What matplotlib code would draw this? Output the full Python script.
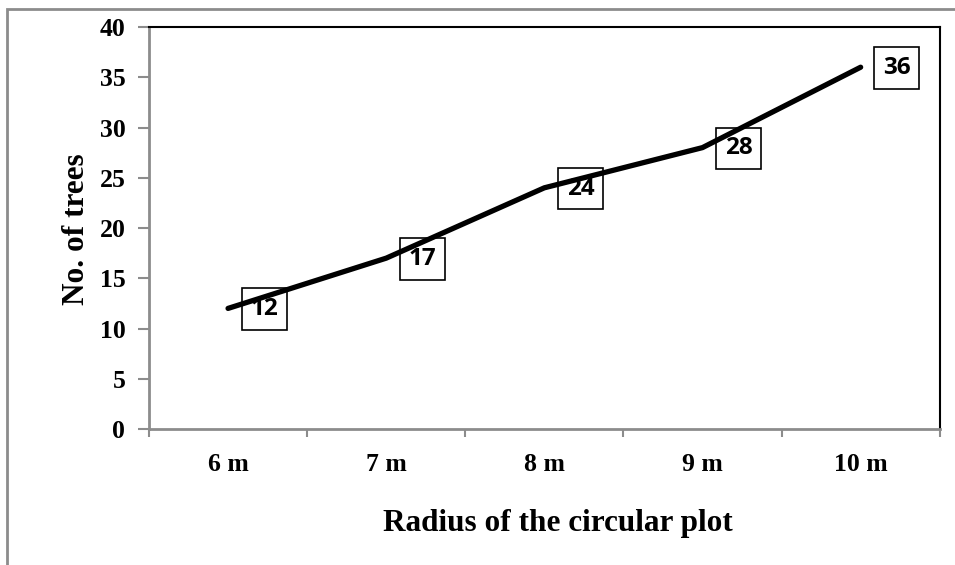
import matplotlib.pyplot as plt
from matplotlib.patches import Rectangle

# radius of the circular sample plot and the tree count found in it
radius_labels = ["6 m", "7 m", "8 m", "9 m", "10 m"]
tree_counts = [12, 17, 24, 28, 36]

serif = "Liberation Serif"
grey = "#8c8c8c"

fig = plt.figure(figsize=(9.55, 5.65), dpi=100)
ax = fig.add_axes([0.156, 0.2407, 0.828, 0.7115])

# light outer frame around the whole chart
fig.patches.append(Rectangle((7 / 955, -0.1), 1.2, 1 - 9 / 565 + 0.1,
                             transform=fig.transFigure, fill=False,
                             edgecolor=grey, linewidth=2))

x = list(range(len(tree_counts)))
ax.plot(x, tree_counts, color="black", linewidth=3.8, solid_capstyle="round",
        zorder=3)

# value labels in open boxes to the right of each point
for xi, yi in zip(x, tree_counts):
    ax.annotate(str(yi), (xi, yi), xytext=(26, -0.5), textcoords="offset points",
                ha="center", va="center", fontsize=17.5, fontweight="bold",
                family="Open Sans", zorder=2,
                bbox=dict(boxstyle="square,pad=0.36", facecolor="none",
                          edgecolor="black", linewidth=1.2))

ax.set_xlim(-0.5, len(x) - 0.5)
ax.set_ylim(0, 40)
ax.set_yticks(range(0, 41, 5))
ax.set_xticks(x)
ax.set_xticklabels(radius_labels)
ax.set_xticks([i - 0.5 for i in range(len(x) + 1)], minor=True)
ax.tick_params(axis="x", which="major", length=0, pad=17)
ax.tick_params(axis="x", which="minor", length=6, color=grey, width=1.5)
ax.tick_params(axis="y", length=8, color=grey, width=1.5, pad=9)

for lab in ax.get_xticklabels() + ax.get_yticklabels():
    lab.set_fontfamily(serif)
    lab.set_fontweight("bold")
    lab.set_fontsize(18.5)

for side in ("left", "bottom"):
    ax.spines[side].set_color(grey)
    ax.spines[side].set_linewidth(2)
for side in ("top", "right"):
    ax.spines[side].set_color("black")
    ax.spines[side].set_linewidth(1.5)

ax.set_xlabel("Radius of the circular plot", family=serif, fontweight="bold",
              fontsize=22.5, va="center")
ax.xaxis.set_label_coords(0.517, -0.236)
ax.set_ylabel("No. of trees", family=serif, fontweight="bold",
              fontsize=22.5, va="center")
ax.yaxis.set_label_coords(-0.092, 0.497)

fig.savefig("out.png", dpi=100)
